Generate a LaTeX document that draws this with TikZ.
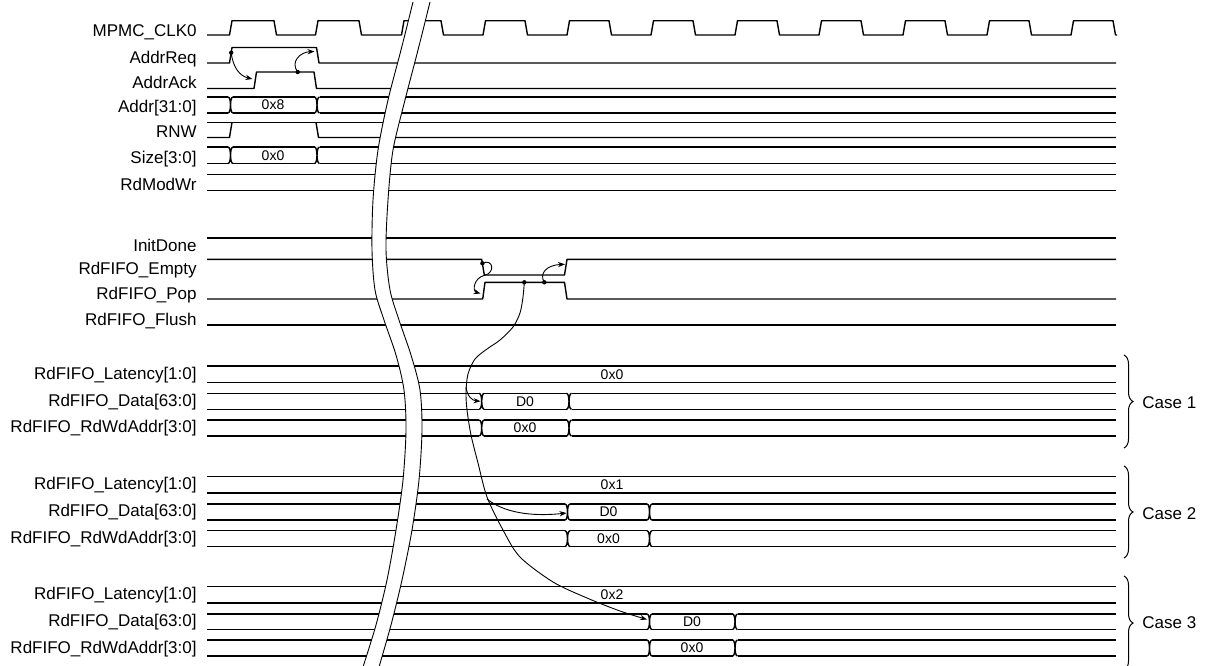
\documentclass[tikz,border=0pt]{standalone}
\usepackage{fontspec}
\setmainfont{Liberation Sans}
\usetikzlibrary{arrows.meta,decorations.pathreplacing}
\tikzset{
  sig/.style={line width=0.7pt,line join=round},
  cause/.style={-{Stealth[length=3.5pt,width=2.6pt]},line width=0.45pt},
  bdot/.style={circle,fill,inner sep=0pt,minimum size=2.2pt},
  lbl/.style={anchor=base east,inner sep=0pt,font=\fontsize{8.5}{10}\selectfont},
  val/.style={inner sep=0pt,font=\fontsize{7}{8}\selectfont},
  brk/.style={line width=0.45pt},
  cbrace/.style={decorate,decoration={brace,amplitude=4.5pt},line width=0.5pt},
  case/.style={anchor=west,inner sep=0pt,font=\fontsize{8.5}{10}\selectfont}
}
% bus crossing at x=#1 between y=#2 (top) and y=#3 (bottom)
\newcommand{\busx}[3]{%
  \draw[sig] ({#1-2.5},#2) .. controls ({#1+0.8},#2) and ({#1+0.8},#3) .. ({#1-2.5},#3)
    ({#1+2.5},#2) .. controls ({#1-0.8},#2) and ({#1-0.8},#3) .. ({#1+2.5},#3);}
% bus with two crossings
\newcommand{\busrow}[4]{%
  \foreach \y in {#1,#2}
    \draw[sig] (207,\y) -- ({#3-2.5},\y) ({#3+2.5},\y) -- ({#4-2.5},\y) ({#4+2.5},\y) -- (1116,\y);
  \busx{#3}{#1}{#2}\busx{#4}{#1}{#2}}

\begin{document}
\begin{tikzpicture}[x=0.5pt,y=-0.5pt]
\useasboundingbox (0,0) rectangle (1209,665);

% signal names
\node[lbl] (lclk) at (197,36) {MPMC\_CLK0};
\node[lbl] (lreq) at (197,63) {AddrReq};
\node[lbl] (lack) at (197,88.5) {AddrAck};
\node[lbl] (laddr) at (197,112.5) {Addr[31:0]};
\node[lbl] (lrnw) at (197,137.5) {RNW};
\node[lbl] (lsize) at (197,163) {Size[3:0]};
\node[lbl] (lrmw) at (197,190) {RdModWr};
\node[lbl] (linit) at (197,251) {InitDone};
\node[lbl] (lempty) at (197,274.5) {RdFIFO\_Empty};
\node[lbl] (lpop) at (197,299.5) {RdFIFO\_Pop};
\node[lbl] (lflush) at (197,325) {RdFIFO\_Flush};
\foreach \c/\o in {1/0,2/110.5,3/220.5} {
  \node[lbl] (llat\c) at (197,379.4+\o) {RdFIFO\_Latency[1:0]};
  \node[lbl] (ldata\c) at (197,406+\o) {RdFIFO\_Data[63:0]};
  \node[lbl] (lwd\c) at (197,432.7+\o) {RdFIFO\_RdWdAddr[3:0]};
}

% clock
\draw[sig] (207,35) \foreach \r/\f in {229.5/274,315.5/359} {
    -- (\r,35) -- (\r+2.5,20.7) -- (\f,20.7) -- (\f+2.5,35) }
  -- (401.5,35) -- (404,20.7) -- (441,20.7) -- (443.5,35)
  \foreach \r in {483,567,...,1071} {
    -- (\r,35) -- (\r+2.5,20.7) -- (\r+42,20.7) -- (\r+44.5,35) }
  -- (1117,35);

% address phase
\draw[sig] (207,63) -- (229.5,63) -- (232,47.5) -- (316.5,47.5) -- (319,63) -- (1116,63);
\draw[sig] (207,88.5) -- (254,88.5) -- (256.5,72) -- (314,72) -- (316.5,88.5) -- (1116,88.5);
\busrow{97}{113}{230.5}{317}
\node[val] (vaddr) at (273,105) {0x8};
\draw[sig] (207,122.3) -- (1116,122.3);
\draw[sig] (207,137.5) -- (229.5,137.5) -- (232,122.3);
\draw[sig] (316,122.3) -- (318.5,137.5) -- (1116,137.5);
\busrow{147}{163.5}{230.5}{317}
\node[val] (vsize) at (273,155.2) {0x0};
\draw[sig] (207,174.3) -- (1116,174.3);
\draw[sig] (207,190.7) -- (1116,190.7);

% read fifo control
\draw[sig] (207,238) -- (1116,238);
\draw[sig] (207,259.3) -- (481.7,259.3) -- (484.3,275) -- (564.5,275) -- (567,259.3) -- (1116,259.3);
\draw[sig] (207,299) -- (482.7,299) -- (485,282.3) -- (564.5,282.3) -- (567,299) -- (1116,299);
\draw[sig] (207,325) -- (1116,325);

% three latency cases
\foreach \o/\l in {0/0x0,110.5/0x1,220.5/0x2} {
  \draw[sig] (207,366+\o) -- (1116,366+\o);
  \draw[sig] (207,382.5+\o) -- (1116,382.5+\o);
  \node[val] (vlat\l) at (612,374.3+\o) {\l};
}
\busrow{393.3}{409.3}{481.7}{569}
\busrow{420}{436}{481.7}{569}
\node[val] (vd1) at (525,401.3) {D0};
\node[val] (vw1) at (525,428) {0x0};
\busrow{504}{520}{567.5}{649.5}
\busrow{530.7}{546.5}{567.5}{649.5}
\node[val] (vd2) at (608.5,512) {D0};
\node[val] (vw2) at (608.5,538.6) {0x0};
\busrow{614}{629.5}{649.5}{735}
\busrow{640}{656}{649.5}{735}
\node[val] (vd3) at (692,621.7) {D0};
\node[val] (vw3) at (692,648) {0x0};

% time break
\fill[white] plot[smooth] coordinates {(413,2) (401,50) (388,100) (378,150) (373,200) (372,250) (375,290) (384,320) (396,355) (404,390) (406,430) (403,480) (396,530) (387,580) (376,625) (363,667)}
  -- plot[smooth] coordinates {(379,667) (391,625) (402,580) (412,530) (419,480) (422,430) (420,390) (411,355) (399,320) (390,290) (386,250) (388,200) (393,150) (405,100) (418,50) (430,2)} -- cycle;
\draw[brk] plot[smooth] coordinates {(413,2) (401,50) (388,100) (378,150) (373,200) (372,250) (375,290) (384,320) (396,355) (404,390) (406,430) (403,480) (396,530) (387,580) (376,625) (363,667)};
\draw[brk] plot[smooth] coordinates {(430,2) (418,50) (405,100) (393,150) (388,200) (386,250) (390,290) (399,320) (411,355) (420,390) (422,430) (419,480) (412,530) (402,580) (391,625) (379,667)};

% cause and effect
\node[bdot] (reqdot) at (231.2,52.7) {};
\node[bdot] (ackdot) at (297.7,72) {};
\coordinate (ackup) at (252.5,79);
\coordinate (reqdown) at (314.5,51.5);
\draw[cause] (reqdot.center) .. controls (233,68) and (240,76) .. (ackup);
\draw[cause] (ackdot.center) .. controls (290,62) and (300,52) .. (reqdown);

\node[bdot] (emptydot) at (482.4,263.3) {};
\node[bdot] (popdot) at (524.3,282.3) {};
\node[bdot] (popdotb) at (544.3,282.3) {};
\coordinate (popup) at (480.5,293.5);
\coordinate (emptyup) at (565,264.3);
\coordinate (br1) at (466,387);
\coordinate (br2) at (487,499);
\coordinate (c1data) at (480.5,401.3);
\coordinate (c2data) at (566.5,513);
\coordinate (c3data) at (647,619.5);
\draw[cause] (emptydot.center) .. controls (493,258) and (496,273) .. (484,275.5)
  .. controls (474,278) and (472,291) .. (popup);
\draw[cause] (popdotb.center) .. controls (539,274) and (546,265) .. (emptyup);
\draw[cause] plot[smooth] coordinates {(popdot.center) (523,297) (520,313) (513,327) (500,340) (487,349) (475,359) (468,374) (466,392) (467,410) (471,435) (478,463) (487,497) (503,530) (520,557) (553,582) (587,598) (620,611) (c3data)};
\draw[cause] (br1) .. controls (467,396) and (472,400.5) .. (c1data);
\draw[cause] (br2) .. controls (503,512) and (530,517) .. (c2data);

% cases
\draw[cbrace] (1124,355) -- (1124,448);
\draw[cbrace] (1124,466) -- (1124,558);
\draw[cbrace] (1124,576) -- (1124,670);
\node[case] (case1) at (1142,402.7) {Case 1};
\node[case] (case2) at (1142,513.3) {Case 2};
\node[case] (case3) at (1142,622.7) {Case 3};
\end{tikzpicture}
\end{document}
